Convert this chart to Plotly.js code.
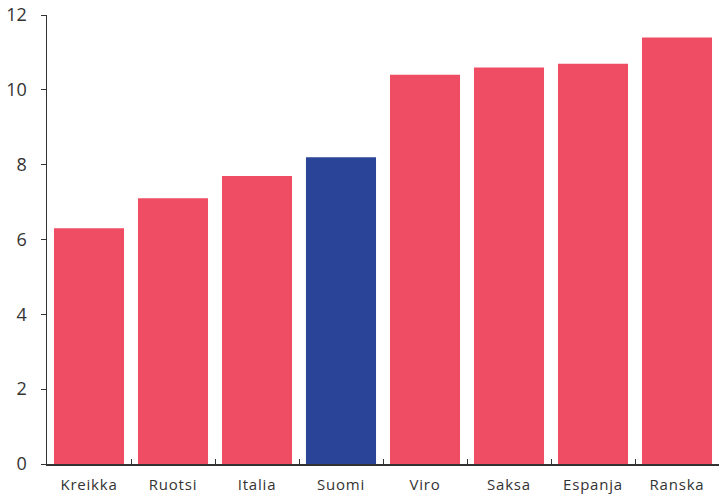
<!DOCTYPE html>
<html>
<head>
<meta charset="utf-8">
<script src="https://cdn.plot.ly/plotly-3.0.1.min.js"></script>
<style>html,body{margin:0;padding:0;background:#fff;}#chart{width:719px;height:497px;}
.xtick text{letter-spacing:0.8px;}</style>
</head>
<body>
<div id="chart"></div>
<script>
const categories = ["Kreikka", "Ruotsi", "Italia", "Suomi", "Viro", "Saksa", "Espanja", "Ranska"];
const values = [6.3, 7.1, 7.7, 8.2, 10.4, 10.6, 10.7, 11.4];
const highlight = "Suomi";
const yTicks = [0, 2, 4, 6, 8, 10, 12];

const red = "#EE4D63";
const blue = "#2A4597";
const colors = categories.map(c => c === highlight ? blue : red);

Plotly.newPlot("chart", [{
  type: "bar",
  x: categories,
  y: values,
  marker: {color: colors, line: {width: 0}},
  hoverinfo: "none"
}], {
  width: 719,
  height: 497,
  margin: {l: 47, r: 0, t: 15, b: 33},
  bargap: 0.166,
  paper_bgcolor: "#fff",
  plot_bgcolor: "#fff",
  showlegend: false,
  font: {family: "'Open Sans', sans-serif", size: 15, color: "#333"},
  xaxis: {
    type: "category",
    showline: true, linecolor: "#333", linewidth: 1.5,
    ticks: "inside", tickson: "boundaries", ticklen: 5, tickcolor: "#333", tickwidth: 1,
    showgrid: false, zeroline: false,
    tickfont: {size: 15, color: "#333"},
    ticklabelstandoff: 6
  },
  yaxis: {
    range: [0, 12],
    tickvals: yTicks,
    ticktext: yTicks.map(String),
    showline: true, linecolor: "#333", linewidth: 1.5,
    ticks: "outside", ticklen: 5, tickcolor: "#333", tickwidth: 1,
    showgrid: false, zeroline: false,
    tickfont: {size: 18, color: "#333"},
    ticklabelstandoff: 10
  }
}, {displayModeBar: false, staticPlot: true});
</script>
</body>
</html>
